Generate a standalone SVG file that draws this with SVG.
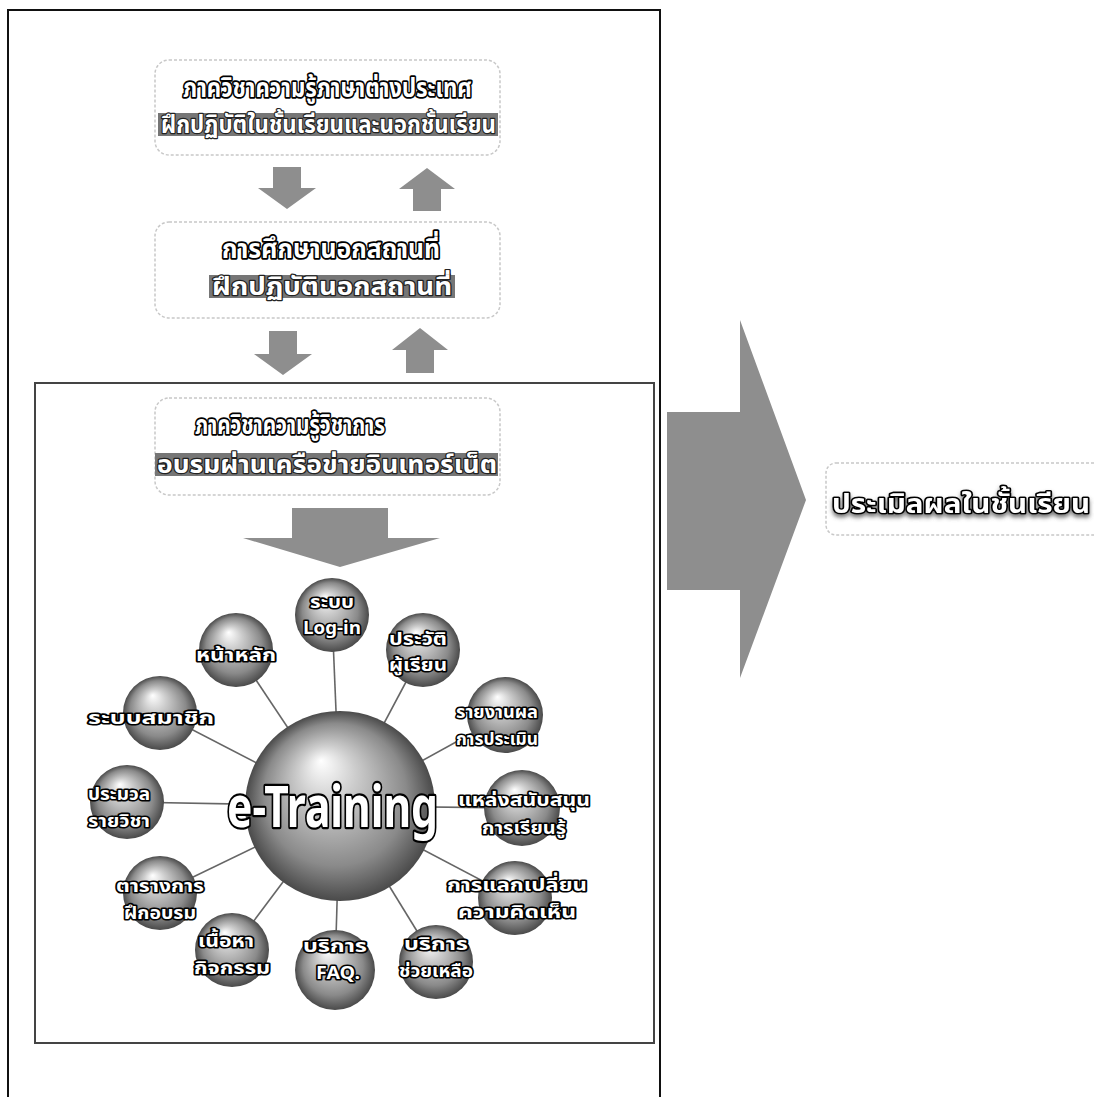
<svg xmlns="http://www.w3.org/2000/svg" width="1094" height="1097" viewBox="0 0 1094 1097">
<style>
.frame{fill:none;stroke:#111;stroke-width:2}
.inner{fill:none;stroke:#444;stroke-width:2}
.box{fill:#fff;stroke:#c8c8c8;stroke-width:1.5;stroke-dasharray:3 2}
.arr{fill:#8e8e8e}
.bar{fill:#767676}
.th{font-family:"Noto Sans Thai","Noto Sans","DejaVu Sans",sans-serif;font-weight:bold;paint-order:stroke;stroke-linejoin:round}
.hd{font-size:26px;fill:#fff;stroke:#000;stroke-width:3.6}
.bt{font-size:24px;fill:#fff;stroke:#222;stroke-width:2.4}
.nl{font-size:18px;fill:#fff;stroke:#000;stroke-width:3.2;text-anchor:middle}
.big{font-family:"Noto Sans","DejaVu Sans",sans-serif;font-weight:bold;font-size:44px;fill:#fff;stroke:#000;stroke-width:3.4;paint-order:stroke;stroke-linejoin:round}
.lk{stroke:#666;stroke-width:1.6}
</style>
<defs>
<radialGradient id="sph" cx="50%" cy="50%" r="50%" fx="40%" fy="26%">
<stop offset="0" stop-color="#ffffff"/>
<stop offset="0.3" stop-color="#cdcdcd"/>
<stop offset="0.75" stop-color="#8a8a8a"/>
<stop offset="1" stop-color="#4a4a4a"/>
</radialGradient>
<filter id="sh" x="-10%" y="-30%" width="120%" height="160%">
<feDropShadow dx="0" dy="3" stdDeviation="2" flood-color="#555" flood-opacity="0.8"/>
</filter>
</defs>

<rect class="frame" x="8" y="10" width="652" height="1100"/>

<g id="box-top">
<rect class="box" x="155" y="60" width="345" height="95" rx="14"/>
<text class="th hd" x="183" y="97" textLength="289" lengthAdjust="spacingAndGlyphs">ภาควิชาความรู้ภาษาต่างประเทศ</text>
<rect class="bar" x="158" y="113" width="340" height="23"/>
<text class="th bt" x="161" y="133" textLength="335" lengthAdjust="spacingAndGlyphs">ฝึกปฏิบัติในชั้นเรียนและนอกชั้นเรียน</text>
</g>

<g id="box-middle">
<rect class="box" x="155" y="222" width="345" height="96" rx="14"/>
<text class="th hd" x="222" y="258" textLength="218" lengthAdjust="spacingAndGlyphs">การศึกษานอกสถานที่</text>
<rect class="bar" x="209" y="275" width="246" height="23"/>
<text class="th bt" x="212" y="295" textLength="240" lengthAdjust="spacingAndGlyphs">ฝึกปฏิบัตินอกสถานที่</text>
</g>

<rect class="inner" x="35" y="383" width="619" height="660"/>

<g id="box-academic">
<rect class="box" x="155" y="398" width="345" height="97" rx="14"/>
<text class="th hd" x="195" y="434" textLength="190" lengthAdjust="spacingAndGlyphs">ภาควิชาความรู้วิชาการ</text>
<rect class="bar" x="155" y="453" width="343" height="23"/>
<text class="th bt" x="157" y="473" textLength="340" lengthAdjust="spacingAndGlyphs">อบรมผ่านเครือข่ายอินเทอร์เน็ต</text>
</g>

<g id="flow-arrows">
<polygon class="arr" points="273,167 301,167 301,188 316,188 287,209 258,188 273,188"/>
<polygon class="arr" points="427,168 455,189 441,189 441,211 413,211 413,189 399,189"/>
<polygon class="arr" points="269,331 297,331 297,354 312,354 283,375 254,354 269,354"/>
<polygon class="arr" points="420,328 448,350 434,350 434,373 406,373 406,350 392,350"/>
<polygon class="arr" points="292,508 388,508 388,538 440,538 340,567 243,538 292,538"/>
<polygon class="arr" points="667,412 740,412 740,320 806,500 740,678 740,590 667,590"/>
</g>

<g id="connectors">
<line class="lk" x1="340" y1="806" x2="332" y2="615"/>
<line class="lk" x1="340" y1="806" x2="423" y2="650"/>
<line class="lk" x1="340" y1="806" x2="505" y2="715"/>
<line class="lk" x1="340" y1="806" x2="522" y2="808"/>
<line class="lk" x1="340" y1="806" x2="515" y2="898"/>
<line class="lk" x1="340" y1="806" x2="436" y2="962"/>
<line class="lk" x1="340" y1="806" x2="335" y2="970"/>
<line class="lk" x1="340" y1="806" x2="232" y2="950"/>
<line class="lk" x1="340" y1="806" x2="160" y2="893"/>
<line class="lk" x1="340" y1="806" x2="127" y2="802"/>
<line class="lk" x1="340" y1="806" x2="160" y2="713"/>
<line class="lk" x1="340" y1="806" x2="236" y2="650"/>
</g>

<g id="node-etraining">
<circle cx="340" cy="806" r="95" fill="url(#sph)"/>
<text class="big" transform="translate(227 827) scale(1 1.32)" x="0" y="0" textLength="211" lengthAdjust="spacingAndGlyphs">e-Training</text>
</g>

<g id="node-login">
<circle cx="332" cy="615" r="37" fill="url(#sph)"/>
<text class="th nl"><tspan x="332" y="608" textLength="44" lengthAdjust="spacingAndGlyphs">ระบบ</tspan><tspan x="332" y="634" textLength="58" lengthAdjust="spacingAndGlyphs">Log-in</tspan></text>
</g>
<g id="node-profile">
<circle cx="423" cy="650" r="37" fill="url(#sph)"/>
<text class="th nl"><tspan x="418" y="645" textLength="58" lengthAdjust="spacingAndGlyphs">ประวัติ</tspan><tspan x="418" y="671" textLength="58" lengthAdjust="spacingAndGlyphs">ผู้เรียน</tspan></text>
</g>
<g id="node-report">
<circle cx="505" cy="715" r="38" fill="url(#sph)"/>
<text class="th nl"><tspan x="497" y="718" textLength="82" lengthAdjust="spacingAndGlyphs">รายงานผล</tspan><tspan x="497" y="745" textLength="82" lengthAdjust="spacingAndGlyphs">การประเมิน</tspan></text>
</g>
<g id="node-resources">
<circle cx="522" cy="808" r="38" fill="url(#sph)"/>
<text class="th nl"><tspan x="524" y="806" textLength="132" lengthAdjust="spacingAndGlyphs">แหล่งสนับสนุน</tspan><tspan x="524" y="834" textLength="84" lengthAdjust="spacingAndGlyphs">การเรียนรู้</tspan></text>
</g>
<g id="node-exchange">
<circle cx="515" cy="898" r="37" fill="url(#sph)"/>
<text class="th nl"><tspan x="517" y="891" textLength="140" lengthAdjust="spacingAndGlyphs">การแลกเปลี่ยน</tspan><tspan x="517" y="918" textLength="118" lengthAdjust="spacingAndGlyphs">ความคิดเห็น</tspan></text>
</g>
<g id="node-help">
<circle cx="436" cy="962" r="37" fill="url(#sph)"/>
<text class="th nl"><tspan x="436" y="950" textLength="64" lengthAdjust="spacingAndGlyphs">บริการ</tspan><tspan x="436" y="977" textLength="74" lengthAdjust="spacingAndGlyphs">ช่วยเหลือ</tspan></text>
</g>
<g id="node-faq">
<circle cx="335" cy="970" r="40" fill="url(#sph)"/>
<text class="th nl"><tspan x="335" y="952" textLength="64" lengthAdjust="spacingAndGlyphs">บริการ</tspan><tspan x="338" y="979" textLength="44" lengthAdjust="spacingAndGlyphs">FAQ.</tspan></text>
</g>
<g id="node-content">
<circle cx="232" cy="950" r="37" fill="url(#sph)"/>
<text class="th nl"><tspan x="226" y="947" textLength="56" lengthAdjust="spacingAndGlyphs">เนื้อหา</tspan><tspan x="232" y="974" textLength="76" lengthAdjust="spacingAndGlyphs">กิจกรรม</tspan></text>
</g>
<g id="node-schedule">
<circle cx="160" cy="893" r="37" fill="url(#sph)"/>
<text class="th nl"><tspan x="160" y="892" textLength="88" lengthAdjust="spacingAndGlyphs">ตารางการ</tspan><tspan x="160" y="919" textLength="72" lengthAdjust="spacingAndGlyphs">ฝึกอบรม</tspan></text>
</g>
<g id="node-syllabus">
<circle cx="127" cy="802" r="37" fill="url(#sph)"/>
<text class="th nl"><tspan x="119" y="800" textLength="62" lengthAdjust="spacingAndGlyphs">ประมวล</tspan><tspan x="119" y="827" textLength="62" lengthAdjust="spacingAndGlyphs">รายวิชา</tspan></text>
</g>
<g id="node-member">
<circle cx="160" cy="713" r="37" fill="url(#sph)"/>
<text class="th nl" x="151" y="724" textLength="126" lengthAdjust="spacingAndGlyphs">ระบบสมาชิก</text>
</g>
<g id="node-home">
<circle cx="236" cy="650" r="37" fill="url(#sph)"/>
<text class="th nl" x="236" y="661" textLength="80" lengthAdjust="spacingAndGlyphs">หน้าหลัก</text>
</g>

<g id="node-evaluate">
<rect class="box" x="826" y="463" width="280" height="72" rx="10"/>
<text class="th" x="832" y="513" font-size="27" fill="#fff" stroke="#000" stroke-width="3.2" filter="url(#sh)" textLength="258" lengthAdjust="spacingAndGlyphs">ประเมิลผลในชั้นเรียน</text>
</g>
</svg>
